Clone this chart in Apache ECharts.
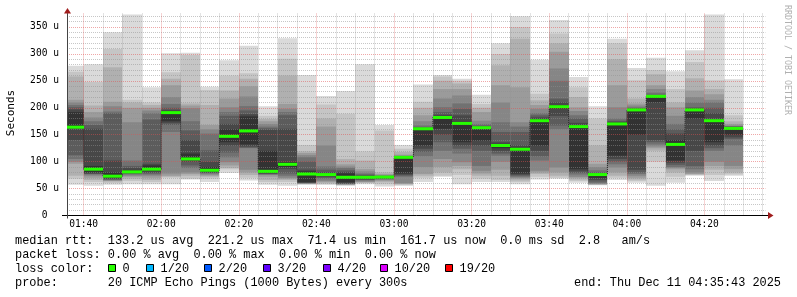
<!DOCTYPE html>
<html><head><meta charset="utf-8">
<script src="https://cdn.jsdelivr.net/npm/echarts@6/dist/echarts.min.js"></script>
<style>html,body{margin:0;padding:0;background:#fff}#c{width:797px;height:297px}</style>
</head><body><div id="c"></div>
<script>
// ---- data (RTT in microseconds) ----
const slotEnds = ['01:40','01:45','01:50','01:55','02:00','02:05','02:10','02:15','02:20','02:25',
  '02:30','02:35','02:40','02:45','02:50','02:55','03:00','03:05','03:10','03:15',
  '03:20','03:25','03:30','03:35','03:40','03:45','03:50','03:55','04:00','04:05',
  '04:10','04:15','04:20','04:25','04:30'];
const medianRtt = [164,86,73,81,86,191,105,84,147,157,82,95,77,76,71,71,71.4,108,161,182,
  171,163,130,123,176,202,165,76,170,196,221.2,132,196,176,161.7];
// sorted ping RTTs per slot (smoke)
const smokePings = [
  [57,68,74,96,100,105,112,140,163,192,197,201,205,210,215,258,267,278],
  [55,62,66,70,74,76,77,78,80,92,161,168,175,182,192,204,248,281],
  [57,60,63,64,65,66,67,68,70,80,102,190,193,203,211,275,309,340],
  [58,64,68,72,74,76,77,79,80,84,88,92,102,173,200,210,215,373],
  [58,62,66,70,74,76,78,80,83,93,96,178,190,195,200,205,210,238],
  [58,70,72,74,78,155,168,172,175,194,196,200,207,220,242,254,266,301],
  [67,68,74,77,80,88,93,100,103,115,140,158,175,199,204,208,298,302],
  [62,68,72,74,76,78,79,80,82,90,100,121,152,160,168,205,233,239],
  [79,86,88,93,99,108,117,130,136,160,170,185,192,201,217,232,260,288],
  [65,70,75,80,85,125,126,128,132,184,188,195,203,221,240,254,264,315],
  [57,62,66,72,75,76,77,78,80,120,159,162,165,170,175,179,185,203],
  [55,62,66,68,70,74,78,86,90,99,161,186,192,198,207,260,291,329],
  [57,58,58.5,59,59.5,60,60.5,61,62,82,85,100,108,112,116,119,131,261],
  [57,58,60,62,64,67,70,72,74,78,80,85,91,130,165,180,206,222],
  [55,56,57,57.5,58,58.5,59,60,62,78,81,84,88,91,95,105,189,231],
  [58,60,61,62,63,65,66,67,69,73,74,76,78,82,86,102,119,281],
  [54,58,62,64,66,67,68,69,70,72,72.5,73,74,75,77,80,158,168],
  [55,57,58,59,60,72,74,76,78,109,109.5,110,110.5,111,113,118,124,131],
  [62,70,74,77,90,110,118,124,130,161,162,164,167,175,186,200,211,243],
  [72,74,80,90,105,120,136,150,161,184,187,192,201,217,235,250,258,261],
  [58,75,86,92,99,115,124,130,136,174,186,198,208,223,235,245,250,254],
  [62,68,74,78,83,92,120,130,139,164,165,167,170,176,192,200,207,224],
  [62,66,74,85,100,111,115,120,125,133,136,155,173,210,242,279,300,320],
  [58,62,65,68,70,72,74,76,78,126,130,155,165,173,238,328,350,370],
  [67,72,77,80,83,102,110,120,130,179,182,186,190,198,205,214,226,289],
  [68,70,74,80,89,160,167,185,198,205,210,217,250,273,304,320,338,363],
  [61,64,67,70,72,76,79,82,86,167,172,180,186,194,201,220,238,257],
  [56,57,57.5,58,59,60,63,66,70,77,78,80,84,90,96,130,180,203],
  [66,70,74,80,89,95,100,105,111,172,174,176,180,201,242,290,320,328],
  [61,64,67,70,74,77,80,85,150,197,198,199,201,204,208,217,251,274],
  [55,100,120,125,128,132,136,140,210,221,222,224,228,235,242,262,270,293],
  [61,72,80,86,88,90,94,98,102,140,152,160,170,185,201,210,235,268],
  [74,75,76,77,80,86,92,120,180,198,199,201,210,220,232,255,285,307],
  [64,75,85,92,100,120,125,130,136,178,190,200,210,215,225,235,251,373],
  [74,76,80,86,92,130,142,145,150,163,164,165,166,167,170,175,186,253]
];
const xTickLabels = ['01:40','02:00','02:20','02:40','03:00','03:20','03:40','04:00','04:20'];
const yTickValues = [0,50,100,150,200,250,300,350];
const timeStart = '01:35:43';
const timeEnd = '04:35:43';
const lossLabels = ['0','1/20','2/20','3/20','4/20','10/20','19/20'];
const lossColors = ['#26ff00','#00b8ff','#0059ff','#5e00ff','#7e00ff','#dd00ff','#ff0000'];
const legendLine1 = 'median rtt:  133.2 us avg  221.2 us max  71.4 us min  161.7 us now  0.0 ms sd  2.8   am/s';
const legendLine2 = 'packet loss: 0.00 % avg  0.00 % max  0.00 % min  0.00 % now';
const legendLine3 = 'loss color:';
const legendLine4 = 'probe:       20 ICMP Echo Pings (1000 Bytes) every 300s';
const endText = 'end: Thu Dec 11 04:35:43 2025';

// ---- helpers ----
function toMin(s){const p=s.split(':').map(Number);return p[0]*60+p[1]+(p[2]||0)/60;}
function fmt(m){const h=Math.floor(m/60),mm=Math.round(m-h*60);return String(h).padStart(2,'0')+':'+String(mm).padStart(2,'0');}
const xMin = toMin(timeStart), xMax = toMin(timeEnd);
const majorX = xTickLabels.map(toMin);
const minorX = [];
for (let m = Math.ceil(xMin/5)*5; m <= xMax; m += 5) if (m % 20 !== 0) minorX.push(m);
const minorY = [];
for (let v = 10; v < 375; v += 10) if (v % 50 !== 0) minorY.push(v);
const smokeColors = ['#dadada','#c5c5c5','#b0b0b0','#9b9b9b','#868686','#717171','#5c5c5c','#474747','#323232'];

const slotData = slotEnds.map((t,i)=>[Math.max(toMin(t)-5,xMin), toMin(t), i]);
const medLine = [];
slotEnds.forEach((t,i)=>{medLine.push([Math.max(toMin(t)-5,xMin), medianRtt[i]]);medLine.push([toMin(t), medianRtt[i]]);});

const axisFont = 'DejaVu Sans Mono';
const legFont = '11.9px "Liberation Mono"';
const minorGrid = 'rgba(143,143,143,0.5)', majorGrid = 'rgba(224,80,80,0.5)';

const chart = echarts.init(document.getElementById('c'), null, {renderer:'canvas'});
const boxX = [108.5,146.5,204.5,263.5,323.5,380.5,445.5];
const graphics = [
  {type:'text', z:10, style:{text:'Seconds', x:11, y:113, font:'11px "DejaVu Sans Mono"', fill:'#000', align:'center', verticalAlign:'middle', textAlign:'center', textVerticalAlign:'middle'}, rotation:Math.PI/2, originX:11, originY:113, x:0, y:0},
  {type:'text', z:10, style:{text:'RRDTOOL / TOBI OETIKER', x:787.5, y:60, font:'8.3px "DejaVu Sans Mono"', fill:'#b0b0b0', align:'center', verticalAlign:'middle', textAlign:'center', textVerticalAlign:'middle'}, rotation:-Math.PI/2, originX:787.5, originY:60},
  {type:'line', z:10, shape:{x1:62, y1:215.5, x2:67, y2:215.5}, style:{stroke:'#000', lineWidth:1}},
  {type:'line', z:10, shape:{x1:765, y1:215.5, x2:770, y2:215.5}, style:{stroke:'#000', lineWidth:1}},
  {type:'line', z:10, shape:{x1:67.5, y1:215, x2:67.5, y2:218.5}, style:{stroke:'#444', lineWidth:1}},
  {type:'polygon', z:10, shape:{points:[[768,212],[773.5,215.5],[768,219]]}, style:{fill:'#a01c1c'}},
  {type:'polygon', z:10, shape:{points:[[64,13.5],[67.5,8],[71,13.5]]}, style:{fill:'#a01c1c'}},
  {type:'text', z:10, style:{text:legendLine1, x:15, y:241, font:legFont, fill:'#000', verticalAlign:'middle', textVerticalAlign:'middle'}},
  {type:'text', z:10, style:{text:legendLine2, x:15, y:255, font:legFont, fill:'#000', verticalAlign:'middle', textVerticalAlign:'middle'}},
  {type:'text', z:10, style:{text:legendLine3, x:15, y:268.5, font:legFont, fill:'#000', verticalAlign:'middle', textVerticalAlign:'middle'}},
  {type:'text', z:10, style:{text:legendLine4, x:15, y:283, font:legFont, fill:'#000', verticalAlign:'middle', textVerticalAlign:'middle'}},
  {type:'text', z:10, style:{text:endText, x:781, y:283, font:legFont, fill:'#000', align:'right', textAlign:'right', verticalAlign:'middle', textVerticalAlign:'middle'}}
];
lossLabels.forEach((lab,i)=>{
  graphics.push({type:'rect', z:10, shape:{x:boxX[i], y:264.5, width:7, height:7}, style:{fill:lossColors[i], stroke:'#000', lineWidth:1}});
  graphics.push({type:'text', z:10, style:{text:lab, x:boxX[i]+14, y:268.5, font:legFont, fill:'#000', verticalAlign:'middle', textVerticalAlign:'middle'}});
});

chart.setOption({
  animation:false,
  backgroundColor:'#fff',
  grid:{left:67, right:31.6, top:13.5, bottom:81.5},
  xAxis:[
    {type:'value', min:xMin, max:xMax, z:3,
     axisLine:{show:true, onZero:false, lineStyle:{color:'#000', width:1}},
     axisTick:{show:false, customValues:majorX},
     axisLabel:{customValues:majorX, formatter:v=>fmt(v), fontFamily:axisFont, fontSize:9.6, color:'#000', margin:4},
     splitLine:{show:true, lineStyle:{color:majorGrid, width:1, type:[1,1]}}},
    {type:'value', min:xMin, max:xMax, z:3,
     axisLine:{show:false}, axisTick:{show:false, customValues:minorX}, axisLabel:{show:false},
     splitLine:{show:true, lineStyle:{color:minorGrid, width:1, type:[1,1]}}}
  ],
  yAxis:[
    {type:'value', min:0, max:375, z:3, position:'left',
     axisLine:{show:true, onZero:false, lineStyle:{color:'#444', width:1}},
     axisTick:{show:false, customValues:yTickValues.filter(v=>v>0)},
     axisLabel:{customValues:yTickValues, formatter:v=>v===0?'0  ':v+' u', fontFamily:axisFont, fontSize:9.6, color:'#000', margin:8},
     splitLine:{show:true, lineStyle:{color:majorGrid, width:1, type:[1,1]}}},
    {type:'value', min:0, max:375, z:3, position:'left',
     axisLine:{show:false}, axisTick:{show:false, customValues:minorY}, axisLabel:{show:false},
     splitLine:{show:true, lineStyle:{color:minorGrid, width:1, type:[1,1]}}}
  ],
  series:[
    {type:'custom', z:1, silent:true, xAxisIndex:0, yAxisIndex:0, data:slotData,
     encode:{x:[0,1]},
     renderItem:function(params, api){
       const i = api.value(2);
       const x0 = Math.round(api.coord([api.value(0),0])[0]);
       const x1 = Math.round(api.coord([api.value(1),0])[0]);
       const p = smokePings[i];
       const ch = [];
       for (let k=0;k<9;k++){
         const yt = api.coord([0,p[17-k]])[1], yb = api.coord([0,p[k]])[1];
         ch.push({type:'rect', shape:{x:x0, y:yt, width:x1-x0, height:Math.max(yb-yt,0.5)}, style:{fill:smokeColors[k]}});
       }
       return {type:'group', children:ch};
     }},
    {type:'line', z:4, silent:true, xAxisIndex:0, yAxisIndex:0, data:medLine, symbol:'none',
     lineStyle:{color:'#202020', width:1, type:[1,1]}},
    {type:'custom', z:5, silent:true, xAxisIndex:0, yAxisIndex:0, data:slotData,
     encode:{x:[0,1]},
     renderItem:function(params, api){
       const i = api.value(2);
       const x0 = Math.round(api.coord([api.value(0),0])[0]);
       const x1 = Math.round(api.coord([api.value(1),0])[0]);
       const y = api.coord([0, medianRtt[i]])[1];
       return {type:'rect', shape:{x:x0, y:y-1.5, width:x1-x0, height:3}, style:{fill:lossColors[0]}};
     }}
  ],
  graphic:graphics
});
</script></body></html>
